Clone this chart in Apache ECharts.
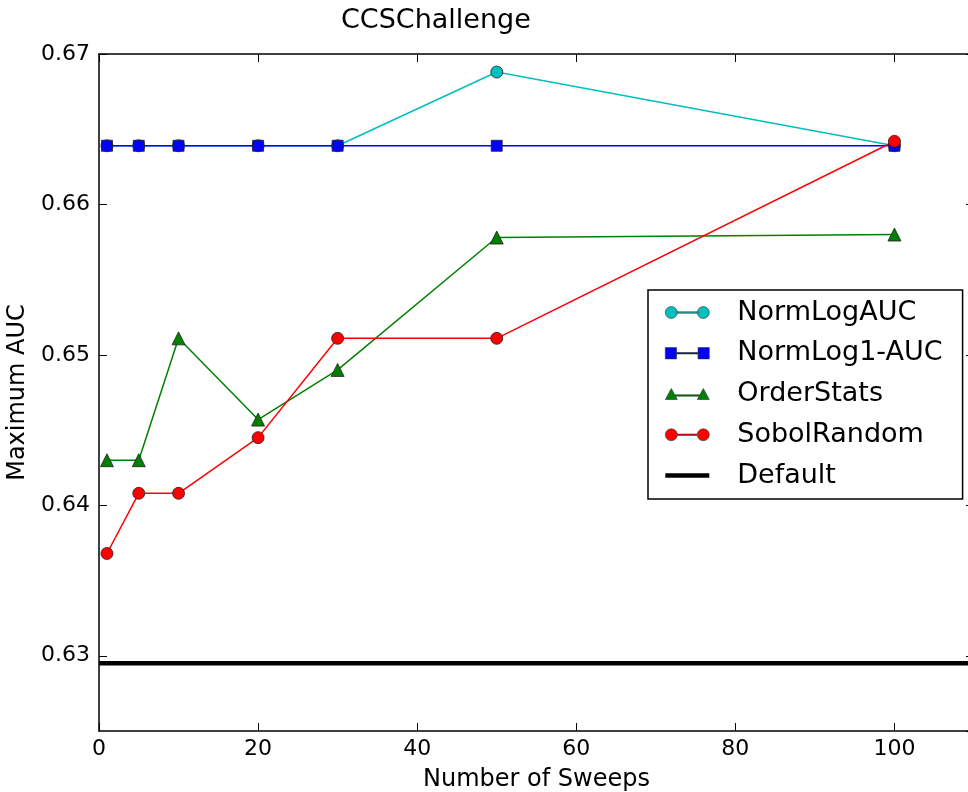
<!DOCTYPE html>
<html>
<head>
<meta charset="utf-8">
<script src="https://cdn.jsdelivr.net/npm/echarts@6/dist/echarts.min.js"></script>
<style>html,body{margin:0;padding:0;background:#fff}#c{width:968px;height:792px}</style>
</head>
<body>
<div id="c"></div>
<script>
const sweeps = [1, 5, 10, 20, 30, 50, 100];
const normLogAUC  = [0.6639, 0.6639, 0.6639, 0.6639, 0.6639, 0.6688, 0.6639];
const normLog1AUC = [0.6639, 0.6639, 0.6639, 0.6639, 0.6639, 0.6639, 0.6639];
const orderStats  = [0.6430, 0.6430, 0.6511, 0.6457, 0.6490, 0.6578, 0.6580];
const sobolRandom = [0.6368, 0.6408, 0.6408, 0.6445, 0.6511, 0.6511, 0.6642];
const defaultX = [0, 110];
const defaultAUC = 0.6295;
const xTicks = [0, 20, 40, 60, 80, 100];

const FONT = '"DejaVu Sans", "Bitstream Vera Sans", sans-serif';
const pair = (xs, ys) => xs.map((x, i) => [x, ys[i]]);

const circleIcon = 'path://M0,6 A6,6 0 1,0 12,6 A6,6 0 1,0 0,6 Z M11,5.3 L33,5.3 L33,6.7 L11,6.7 Z M32,6 A6,6 0 1,0 44,6 A6,6 0 1,0 32,6 Z';
const squareIcon = 'path://M0.5,0.5 L11.5,0.5 L11.5,11.5 L0.5,11.5 Z M11,5.3 L33,5.3 L33,6.7 L11,6.7 Z M32.5,0.5 L43.5,0.5 L43.5,11.5 L32.5,11.5 Z';
const triIcon = 'path://M0,12 L6,1 L12,12 Z M10,7.3 L34,7.3 L34,8.7 L10,8.7 Z M32,12 L38,1 L44,12 Z';
const lineIcon = 'path://M0,0 L44,0 L44,4.5 L0,4.5 Z';

const axisLineStyle = () => ({ color: '#000', width: 1.5 });
const tickStyle = () => ({ show: true, inside: true, length: 8, lineStyle: { color: '#000', width: 1 } });

function lineSeries(name, ys, color, symbol, size) {
  return {
    name, type: 'line', data: pair(sweeps, ys),
    symbol, symbolSize: size,
    lineStyle: { color, width: 1.5 },
    itemStyle: { color, borderColor: '#222', borderWidth: 0.8 },
    emphasis: { disabled: true }
  };
}

const chart = echarts.init(document.getElementById('c'));
chart.setOption({
  animation: false,
  backgroundColor: '#fff',
  title: {
    text: 'CCSChallenge', left: 341, top: 7, padding: 0,
    textStyle: { fontFamily: FONT, fontSize: 27, fontWeight: 'normal', color: '#000' }
  },
  grid: { left: 99, top: 54, width: 875, height: 677, outerBoundsMode: 'none', containLabel: false },
  xAxis: [{
    type: 'value', min: 0, max: 110, interval: 20,
    name: 'Number of Sweeps', nameLocation: 'middle', nameGap: 37,
    nameTextStyle: { fontFamily: FONT, fontSize: 24, color: '#000' },
    axisLine: { show: true, onZero: false, lineStyle: axisLineStyle() },
    axisTick: tickStyle(),
    axisLabel: { fontFamily: FONT, fontSize: 22, color: '#000', margin: 7, showMaxLabel: false,
      formatter: v => xTicks.includes(v) ? String(v) : '' },
    splitLine: { show: false }
  }, {
    type: 'value', position: 'top', min: 0, max: 110, interval: 20,
    axisLine: { show: true, onZero: false, lineStyle: axisLineStyle() },
    axisTick: tickStyle(), axisLabel: { show: false }, splitLine: { show: false }
  }],
  yAxis: [{
    type: 'value', min: 0.625, max: 0.67, splitNumber: 5,
    name: 'Maximum AUC', nameLocation: 'middle', nameGap: 57, nameRotate: 90,
    nameTextStyle: { fontFamily: FONT, fontSize: 24, color: '#000' },
    axisLine: { show: true, onZero: false, lineStyle: axisLineStyle() },
    axisTick: tickStyle(),
    axisLabel: { fontFamily: FONT, fontSize: 22, color: '#000', margin: 9, showMinLabel: false,
      formatter: v => v.toFixed(2) },
    splitLine: { show: false }
  }, {
    type: 'value', position: 'right', min: 0.625, max: 0.67, splitNumber: 5,
    axisLine: { show: true, onZero: false, lineStyle: axisLineStyle() },
    axisTick: tickStyle(), axisLabel: { show: false }, splitLine: { show: false }
  }],
  legend: {
    orient: 'vertical', left: 648, top: 290,
    padding: [9, 20, 10, 17], itemGap: 13.75,
    itemWidth: 44, itemHeight: 12, symbolKeepAspect: true,
    backgroundColor: '#fff', borderColor: '#000', borderWidth: 1.5, borderRadius: 0,
    textStyle: { fontFamily: FONT, fontSize: 27, lineHeight: 26, color: '#000', padding: [0, 0, 0, 23] },
    data: [
      { name: 'NormLogAUC', icon: circleIcon, itemStyle: { borderWidth: 0.6, borderColor: '#333' } },
      { name: 'NormLog1-AUC', icon: squareIcon, itemStyle: { borderWidth: 0.6, borderColor: '#333' } },
      { name: 'OrderStats', icon: triIcon, itemStyle: { borderWidth: 0.6, borderColor: '#333' } },
      { name: 'SobolRandom', icon: circleIcon, itemStyle: { borderWidth: 0.6, borderColor: '#333' } },
      { name: 'Default', icon: lineIcon, itemStyle: { borderWidth: 0 } }
    ]
  },
  series: [
    lineSeries('NormLogAUC', normLogAUC, '#00bfbf', 'circle', 12),
    lineSeries('NormLog1-AUC', normLog1AUC, '#0000ff', 'rect', 11),
    lineSeries('OrderStats', orderStats, '#008000', 'triangle', 13),
    lineSeries('SobolRandom', sobolRandom, '#ff0000', 'circle', 12),
    {
      name: 'Default', type: 'line', data: defaultX.map(x => [x, defaultAUC]),
      symbol: 'none', lineStyle: { color: '#000', width: 4.5 },
      itemStyle: { color: '#000' }, emphasis: { disabled: true }
    }
  ]
});
</script>
</body>
</html>
